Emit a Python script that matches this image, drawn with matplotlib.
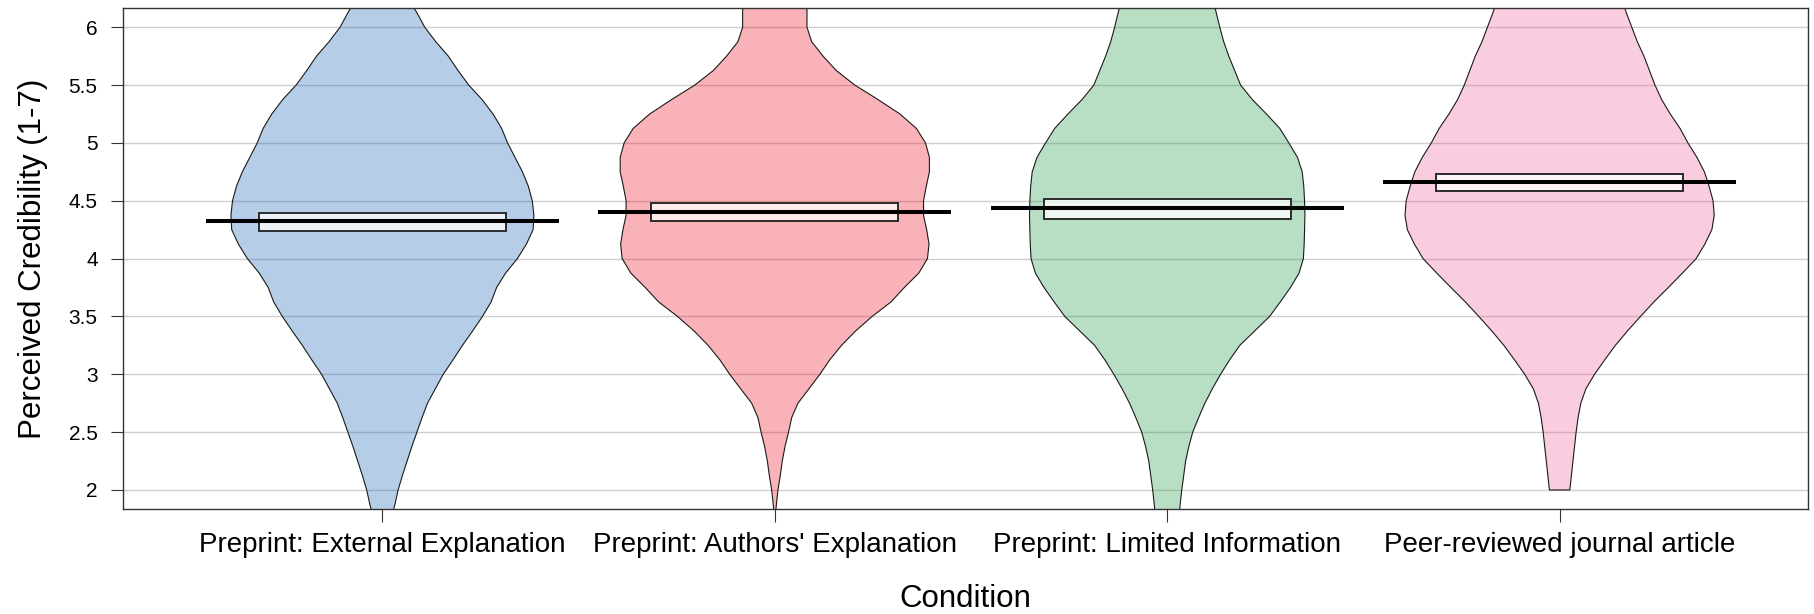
import numpy as np
import matplotlib
matplotlib.use("Agg")
from matplotlib import pyplot as plt, patches
from matplotlib.colors import to_rgba

plt.rcParams["font.family"] = ["Liberation Sans", "DejaVu Sans"]

conditions = [
    "Preprint: External Explanation",
    "Preprint: Authors' Explanation",
    "Preprint: Limited Information",
    "Peer-reviewed journal article",
]
bean_colors = ["#0C5BB0", "#EE0011", "#15983D", "#EC579A"]

means = [4.323, 4.404, 4.438, 4.660]
ci_low = [4.242, 4.323, 4.343, 4.588]
ci_high = [4.392, 4.484, 4.516, 4.729]

# y levels at which the bean half-widths are given
density_y = [1.75, 1.875, 2.0, 2.125, 2.25, 2.375, 2.5, 2.625, 2.75, 2.875,
             3.0, 3.125, 3.25, 3.375, 3.5, 3.625, 3.75, 3.875,
             4.0, 4.125, 4.25, 4.375, 4.5, 4.625, 4.75, 4.875,
             5.0, 5.125, 5.25, 5.375, 5.5, 5.625, 5.75, 5.875,
             6.0, 6.125, 6.25]

# half-widths of each bean in x units (None = outside the observed range)
width_external = [0.022, 0.032, 0.040, 0.051, 0.063, 0.075, 0.088, 0.101, 0.115, 0.135,
                  0.155, 0.180, 0.204, 0.230, 0.255, 0.277, 0.291, 0.314,
                  0.344, 0.367, 0.384, 0.386, 0.382, 0.372, 0.357, 0.338,
                  0.319, 0.304, 0.282, 0.254, 0.220, 0.193, 0.168, 0.136,
                  0.108, 0.088, 0.066]
width_authors = [0.001, 0.004, 0.008, 0.014, 0.019, 0.026, 0.035, 0.043, 0.059, 0.087,
                 0.115, 0.140, 0.170, 0.206, 0.248, 0.296, 0.330, 0.367,
                 0.389, 0.393, 0.387, 0.379, 0.379, 0.386, 0.394, 0.394,
                 0.384, 0.361, 0.319, 0.263, 0.204, 0.157, 0.123, 0.094,
                 0.082, 0.082, 0.082]
width_limited = [0.030, 0.033, 0.037, 0.042, 0.047, 0.055, 0.065, 0.080, 0.096, 0.115,
                 0.136, 0.159, 0.185, 0.223, 0.261, 0.288, 0.314, 0.336,
                 0.347, 0.349, 0.350, 0.351, 0.350, 0.348, 0.344, 0.332,
                 0.310, 0.287, 0.253, 0.217, 0.187, 0.172, 0.157, 0.144,
                 0.134, 0.125, 0.116]
width_peer = [None, None, 0.026, 0.030, 0.034, 0.038, 0.042, 0.047, 0.054, 0.067,
              0.089, 0.115, 0.142, 0.173, 0.206, 0.240, 0.277, 0.313,
              0.348, 0.370, 0.388, 0.394, 0.391, 0.381, 0.369, 0.350,
              0.327, 0.307, 0.282, 0.260, 0.243, 0.229, 0.215, 0.198,
              0.184, 0.170, 0.158]
bean_widths = [width_external, width_authors, width_limited, width_peer]

y_ticks = [2, 2.5, 3, 3.5, 4, 4.5, 5, 5.5, 6]


def draw_bean(ax, pos, half_widths, color):
    y = np.array(density_y)
    w = np.array([np.nan if v is None else v for v in half_widths], dtype=float)
    keep = ~np.isnan(w)
    y, w = y[keep], w[keep]
    xs = np.concatenate([pos - w, (pos + w)[::-1]])
    ys = np.concatenate([y, y[::-1]])
    ax.fill(xs, ys, facecolor=to_rgba(color, 0.3), edgecolor="#1a1a1a",
            linewidth=0.8, zorder=2)


fig = plt.figure(figsize=(18.14, 6.14), dpi=100)
ax = fig.add_axes([0.0676, 0.1715, 0.9291, 0.8150])

for i, name in enumerate(conditions):
    pos = i + 1
    draw_bean(ax, pos, bean_widths[i], bean_colors[i])
    box = patches.Rectangle((pos - 0.315, ci_low[i]), 0.63, ci_high[i] - ci_low[i],
                            facecolor=(1, 1, 1, 0.75), edgecolor="#2b2b2b",
                            linewidth=1.4, zorder=3)
    ax.add_patch(box)
    ax.hlines(means[i], pos - 0.45, pos + 0.45, color="black", linewidth=2.9, zorder=4)

ax.set_xlim(0.338, 4.633)
ax.set_ylim(1.838, 6.164)

ax.set_yticks(y_ticks)
ax.set_yticklabels([f"{v:g}" for v in y_ticks])
ax.set_xticks(range(1, len(conditions) + 1))
ax.set_xticklabels(conditions)

ax.set_axisbelow(True)
ax.yaxis.grid(True, color="#cfcfcf", linewidth=1.0)

ax.tick_params(axis="y", length=9, width=0.8, color="#333333", labelsize=15, pad=9)
ax.tick_params(axis="x", length=9, width=0.8, color="#333333", labelsize=20, pad=8)
for side in ax.spines.values():
    side.set_color("#333333")
    side.set_linewidth(1.0)

ax.set_ylabel("Perceived Credibility (1-7)", fontsize=22.5)
ax.yaxis.set_label_coords(-0.0443, 0.5)
ax.set_xlabel("Condition", fontsize=22.5)
ax.xaxis.set_label_coords(0.5, -0.151)

fig.savefig("out.png", dpi=100)
